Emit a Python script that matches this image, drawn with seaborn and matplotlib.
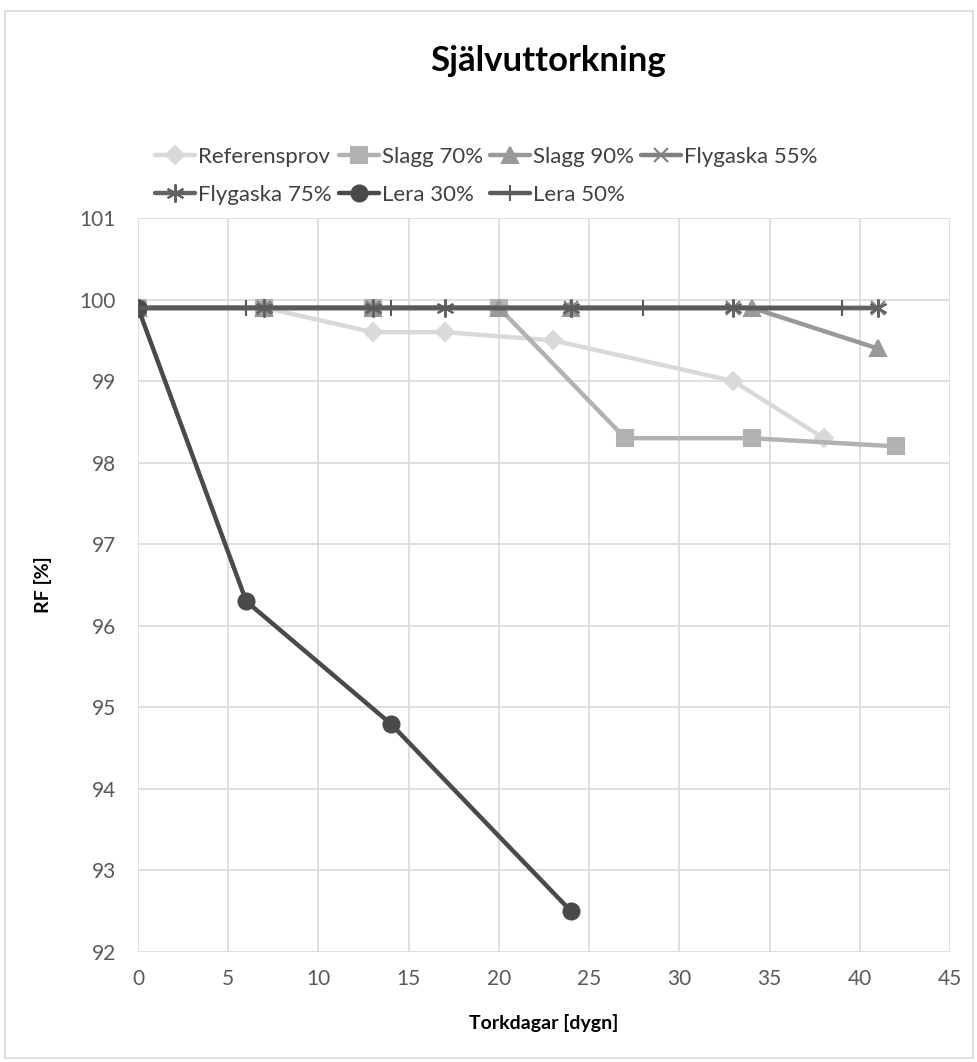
import matplotlib
matplotlib.use("Agg")
import matplotlib.pyplot as plt
import seaborn as sns
import pandas as pd
from matplotlib.patches import Rectangle

sns.set_theme(style="whitegrid")
plt.rcParams['font.family'] = ['Lato', 'DejaVu Sans']

ref_x = [0, 7, 13, 17, 23, 33, 38]
ref_y = [99.9, 99.9, 99.6, 99.6, 99.5, 99.0, 98.3]
s70_x = [0, 7, 13, 20, 27, 34, 42]
s70_y = [99.9, 99.9, 99.9, 99.9, 98.3, 98.3, 98.2]
s90_x = [0, 7, 13, 20, 24, 34, 41]
s90_y = [99.9, 99.9, 99.9, 99.9, 99.9, 99.9, 99.4]
f55_x = [0, 7, 13, 24, 33, 41]
f55_y = [99.9, 99.9, 99.9, 99.9, 99.9, 99.9]
f75_x = [0, 7, 13, 17, 24, 33, 41]
f75_y = [99.9, 99.9, 99.9, 99.9, 99.9, 99.9, 99.9]
l30_x = [0, 6, 14, 24]
l30_y = [99.9, 96.3, 94.8, 92.5]
l50_x = [0, 6, 14, 28, 39]
l50_y = [99.9, 99.9, 99.9, 99.9, 99.9]

series = [
    ("Referensprov", ref_x, ref_y, "#d9d9d9", "D", 9),
    ("Slagg 70%", s70_x, s70_y, "#b2b2b2", "s", 11.5),
    ("Slagg 90%", s90_x, s90_y, "#999999", "^", 11.5),
    ("Flygaska 55%", f55_x, f55_y, "#7f7f7f", "x", 10),
    ("Flygaska 75%", f75_x, f75_y, "#636363", (6, 2, 0), 13),
    ("Lera 30%", l30_x, l30_y, "#4a4a4a", "o", 11.5),
    ("Lera 50%", l50_x, l50_y, "#5a5a5a", "+", 11),
]

fig = plt.figure(figsize=(9.78, 10.62), dpi=100)
ax = fig.add_axes([138 / 978, 1 - 952 / 1062, 812 / 978, 734 / 1062])

handles = []
for name, xs, ys, col, mk, ms in series:
    df = pd.DataFrame({"x": xs, "y": ys})
    sns.lineplot(data=df, x="x", y="y", ax=ax, color=col, linewidth=3.2,
                 marker=mk, markersize=ms, markeredgecolor=col,
                 markerfacecolor=col, markeredgewidth=1.5, label=name,
                 sort=False, legend=False)
    handles.append(ax.lines[-1])

ax.set_xlim(0, 45)
ax.set_ylim(92, 101)
ax.set_xticks(range(0, 46, 5))
ax.set_yticks(range(92, 102))
ax.grid(True, color="#d9d9d9", linewidth=1.2)
for s in ax.spines.values():
    s.set_visible(False)
ax.tick_params(axis="both", colors="#595959", labelsize=15, length=0)
ax.tick_params(axis="x", pad=12)
ax.tick_params(axis="y", pad=16)
ax.set_xlabel("Torkdagar [dygn]", fontsize=14, fontweight="bold", color="black", labelpad=18)
ax.set_ylabel("RF [%]", fontsize=14, fontweight="bold", color="black", labelpad=20)

fig.text(548 / 978, 1 - 61 / 1062, "Självuttorkning", ha="center", va="center",
         fontsize=25, fontweight="bold", color="black")

labels = [s[0] for s in series]
order = [0, 4, 1, 5, 2, 6, 3]
leg = fig.legend([handles[i] for i in order], [labels[i] for i in order],
                 ncol=4, loc="upper left", bbox_to_anchor=(144 / 978, 1 - 136 / 1062),
                 frameon=False, fontsize=16, handlelength=1.8, columnspacing=0.3,
                 handletextpad=0.15, labelspacing=0.8, borderpad=0)
for t in leg.get_texts():
    t.set_color("#404040")

fig.patches.append(Rectangle((0.005, 0.004), 0.99, 0.986, transform=fig.transFigure,
                             fill=False, edgecolor="#d9d9d9", linewidth=1.2))

fig.savefig("out.png", dpi=100)
